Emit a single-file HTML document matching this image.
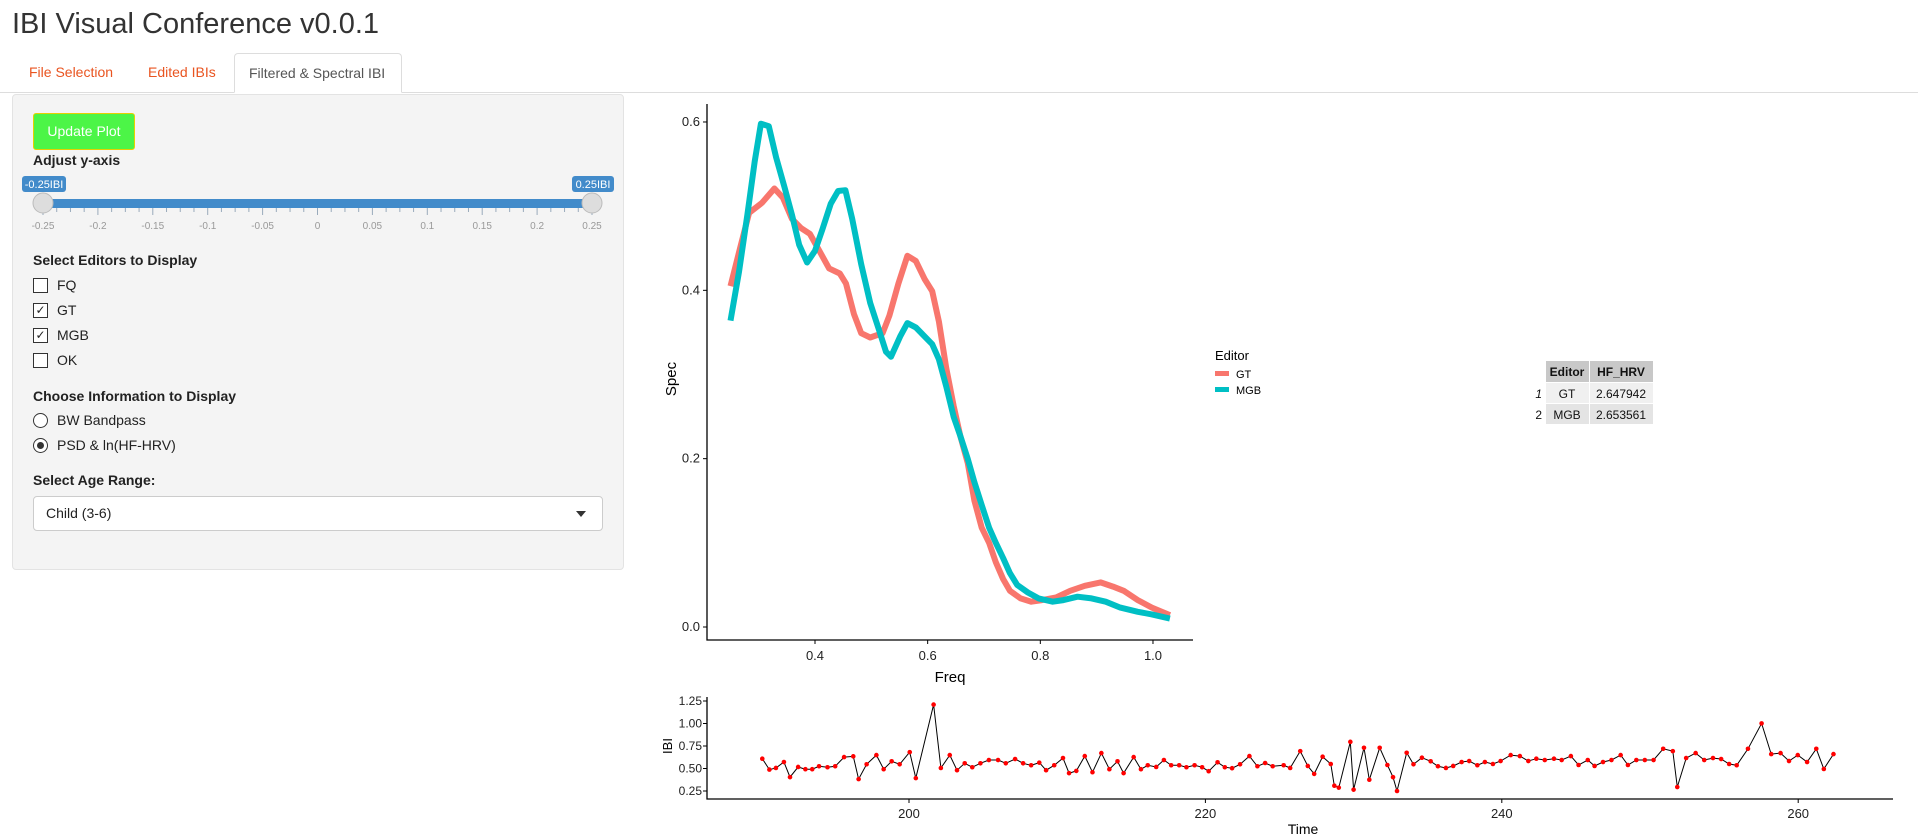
<!DOCTYPE html>
<html><head><meta charset="utf-8">
<style>
body{margin:0;width:1918px;height:839px;background:#fff;font-family:"Liberation Sans",sans-serif;position:relative;overflow:hidden;color:#333}
.abs{position:absolute}
.tab{position:absolute;top:53px;height:39px;line-height:39px;font-size:14px;color:#e95420;padding:0 14px;white-space:nowrap;box-sizing:border-box}
.lbl{position:absolute;left:33px;font-weight:bold;font-size:14px;color:#222}
.opt{position:absolute;left:33px;font-size:14px;color:#222;display:flex;align-items:center}
.cb{width:13px;height:13px;border:1px solid #333;margin-right:9px;font-size:12px;line-height:13px;text-align:center;background:#fff}
.rb{width:13px;height:13px;border:1px solid #333;border-radius:50%;margin-right:9px;background:#fff;position:relative}
svg text{font-family:"Liberation Sans",sans-serif}
</style></head><body>
<div class="abs" style="left:12px;top:8px;font-size:29px;color:#333">IBI Visual Conference v0.0.1</div>
<div class="abs" style="left:0;top:92px;width:1918px;height:1px;background:#ddd"></div>
<div class="tab" style="left:15px">File Selection</div>
<div class="tab" style="left:134px">Edited IBIs</div>
<div class="tab" style="left:234px;width:168px;border:1px solid #ddd;border-bottom:1px solid #fff;background:#fff;color:#555;border-radius:4px 4px 0 0;height:40px">Filtered &amp; Spectral IBI</div>

<div class="abs" style="left:12px;top:94px;width:610px;height:474px;background:#f4f4f4;border:1px solid #e3e3e3;border-radius:4px"></div>
<div class="abs" style="left:33px;top:113px;width:100px;height:35px;background:#4cf547;border:1px solid #e6d000;border-radius:3px;color:#fff;font-size:14px;line-height:35px;text-align:center">Update Plot</div>
<div class="lbl" style="top:152px">Adjust y-axis</div>
<svg class="abs" style="left:12px;top:170px" width="610" height="70">
<rect x="31" y="29" width="549" height="9" fill="#428bca" rx="2"/>
<g id="slticks" stroke="#9ab" stroke-width="1"></g>
<g id="sllabels" font-size="10" fill="#999" text-anchor="middle"></g>
<rect x="10" y="6" width="44" height="16" rx="3" fill="#428bca"/>
<text x="32" y="18" font-size="11" fill="#fff" text-anchor="middle">-0.25IBI</text>
<rect x="560" y="6" width="42" height="16" rx="3" fill="#428bca"/>
<text x="581" y="18" font-size="11" fill="#fff" text-anchor="middle">0.25IBI</text>
<circle cx="31" cy="33" r="10" fill="#ddd" stroke="#bbb"/>
<circle cx="580" cy="33" r="10" fill="#ddd" stroke="#bbb"/>
</svg>
<div class="lbl" style="top:252px">Select Editors to Display</div>
<div class="opt" style="top:277px"><span class="cb"></span>FQ</div>
<div class="opt" style="top:302px"><span class="cb">✓</span>GT</div>
<div class="opt" style="top:327px"><span class="cb">✓</span>MGB</div>
<div class="opt" style="top:352px"><span class="cb"></span>OK</div>
<div class="lbl" style="top:388px">Choose Information to Display</div>
<div class="opt" style="top:412px"><span class="rb"></span>BW Bandpass</div>
<div class="opt" style="top:437px"><span class="rb"><span style="position:absolute;left:3px;top:3px;width:7px;height:7px;border-radius:50%;background:#333"></span></span>PSD &amp; ln(HF-HRV)</div>
<div class="lbl" style="top:472px">Select Age Range:</div>
<div class="abs" style="left:33px;top:496px;width:568px;height:33px;background:#fff;border:1px solid #ccc;border-radius:4px;font-size:14px;line-height:33px;color:#222"><span style="margin-left:12px">Child (3-6)</span><span style="position:absolute;right:16px;top:14px;border-left:5px solid transparent;border-right:5px solid transparent;border-top:6px solid #333"></span></div>

<svg class="abs" style="left:0;top:0" width="1918" height="839" id="charts">
<g id="spec"></g><g id="ibi"></g>
<text x="1215" y="360" font-size="13" fill="#000">Editor</text>
<rect x="1215" y="371" width="14" height="5" fill="#f8766d"/>
<text x="1236" y="378" font-size="11">GT</text>
<rect x="1215" y="387" width="14" height="5" fill="#00bfc4"/>
<text x="1236" y="394" font-size="11">MGB</text>
<g font-size="12" fill="#111">
<rect x="1546" y="361" width="43" height="21" fill="#c8c8c8"/><rect x="1590" y="361" width="63" height="21" fill="#c8c8c8"/>
<rect x="1546" y="383" width="43" height="20" fill="#f0f0f0"/><rect x="1590" y="383" width="63" height="20" fill="#f0f0f0"/>
<rect x="1546" y="404" width="43" height="20" fill="#e4e4e4"/><rect x="1590" y="404" width="63" height="20" fill="#e4e4e4"/>
<text x="1567" y="376" text-anchor="middle" font-weight="bold">Editor</text><text x="1621" y="376" text-anchor="middle" font-weight="bold">HF_HRV</text>
<text x="1542" y="398" text-anchor="end" font-style="italic">1</text><text x="1567" y="398" text-anchor="middle">GT</text><text x="1621" y="398" text-anchor="middle">2.647942</text>
<text x="1542" y="419" text-anchor="end">2</text><text x="1567" y="419" text-anchor="middle">MGB</text><text x="1621" y="419" text-anchor="middle">2.653561</text>
</g>
</svg>
<script>
const specFreqGT=[0.250,0.265,0.283,0.306,0.328,0.343,0.359,0.375,0.391,0.406,0.425,0.444,0.455,0.469,0.482,0.498,0.520,0.532,0.548,0.564,0.579,0.595,0.608,0.620,0.633,0.646,0.658,0.671,0.683,0.696,0.709,0.721,0.734,0.746,0.765,0.784,0.803,0.828,0.853,0.879,0.907,0.929,0.948,0.973,0.998,1.030];
const specGT=[0.405,0.445,0.492,0.504,0.521,0.510,0.485,0.474,0.467,0.449,0.426,0.420,0.408,0.372,0.349,0.344,0.349,0.370,0.408,0.441,0.435,0.413,0.399,0.363,0.308,0.263,0.227,0.195,0.150,0.118,0.100,0.077,0.057,0.043,0.034,0.030,0.032,0.035,0.043,0.049,0.053,0.048,0.043,0.032,0.023,0.014];
const specFreqMGB=[0.250,0.265,0.280,0.293,0.304,0.318,0.331,0.346,0.359,0.372,0.386,0.400,0.413,0.428,0.441,0.454,0.466,0.482,0.498,0.513,0.526,0.535,0.551,0.564,0.579,0.595,0.608,0.620,0.633,0.646,0.658,0.671,0.683,0.696,0.709,0.721,0.734,0.746,0.759,0.778,0.797,0.822,0.841,0.866,0.891,0.916,0.942,0.973,0.998,1.030];
const specMGB=[0.364,0.422,0.490,0.553,0.598,0.595,0.558,0.522,0.490,0.454,0.433,0.447,0.472,0.503,0.518,0.519,0.485,0.431,0.385,0.354,0.327,0.321,0.345,0.361,0.356,0.345,0.336,0.318,0.286,0.250,0.227,0.200,0.172,0.145,0.118,0.100,0.082,0.064,0.050,0.041,0.034,0.030,0.032,0.036,0.034,0.030,0.023,0.018,0.015,0.010];
const specXTicks=[0.4,0.6,0.8,1.0];
const specYTicks=[0.0,0.2,0.4,0.6];
const ibiTime=[190.10,190.58,191.02,191.56,191.97,192.52,193.01,193.47,193.93,194.50,195.02,195.62,196.24,196.60,197.14,197.80,198.29,198.83,199.37,200.05,200.46,201.66,202.15,202.75,203.24,203.76,204.27,204.82,205.39,206.01,206.53,207.16,207.70,208.24,208.79,209.25,209.80,210.39,210.80,211.29,211.86,212.38,212.98,213.52,214.07,214.48,215.16,215.65,216.11,216.68,217.20,217.69,218.23,218.72,219.27,219.78,220.22,220.82,221.31,221.80,222.34,222.97,223.51,224.03,224.54,225.28,225.72,226.40,226.91,227.34,227.91,228.46,228.70,229.00,229.78,230.00,230.70,231.06,231.76,232.28,232.66,232.93,233.58,234.04,234.61,235.20,235.69,236.23,236.72,237.29,237.80,238.35,238.86,239.40,239.92,240.60,241.22,241.79,242.33,242.90,243.52,244.04,244.66,245.18,245.80,246.26,246.83,247.40,248.02,248.51,249.08,249.65,250.24,250.89,251.54,251.84,252.44,253.08,253.66,254.25,254.80,255.34,255.85,256.61,257.53,258.18,258.81,259.38,259.97,260.60,261.22,261.73,262.38];
const ibiValue=[0.609,0.488,0.506,0.572,0.404,0.517,0.492,0.492,0.525,0.514,0.525,0.627,0.635,0.382,0.547,0.649,0.492,0.580,0.547,0.682,0.393,1.210,0.506,0.649,0.481,0.558,0.514,0.558,0.594,0.594,0.558,0.605,0.558,0.536,0.565,0.481,0.536,0.616,0.448,0.473,0.638,0.459,0.671,0.492,0.580,0.448,0.627,0.492,0.536,0.517,0.594,0.536,0.536,0.514,0.536,0.514,0.470,0.569,0.514,0.503,0.547,0.638,0.525,0.561,0.525,0.536,0.506,0.693,0.528,0.440,0.631,0.550,0.309,0.287,0.796,0.265,0.730,0.375,0.730,0.539,0.404,0.250,0.675,0.547,0.620,0.580,0.525,0.506,0.528,0.572,0.583,0.536,0.572,0.550,0.583,0.649,0.638,0.583,0.609,0.594,0.609,0.594,0.638,0.539,0.594,0.528,0.572,0.594,0.649,0.539,0.594,0.594,0.594,0.719,0.693,0.294,0.616,0.671,0.594,0.616,0.605,0.550,0.536,0.719,1.001,0.660,0.671,0.583,0.649,0.572,0.719,0.495,0.660];
const ibiXTicks=[200,220,240,260];
const ibiYTicks=[0.25,0.50,0.75,1.00,1.25];
const sliderLabels=[-0.25,-0.2,-0.15,-0.1,-0.05,0,0.05,0.1,0.15,0.2,0.25];

const NS='http://www.w3.org/2000/svg';
function mk(tag,attrs,parent){const e=document.createElementNS(NS,tag);for(const k in attrs)e.setAttribute(k,attrs[k]);parent.appendChild(e);return e;}
const slT=document.getElementById('slticks'),slL=document.getElementById('sllabels');
const slX=v=>31+(v+0.25)/0.5*549;
for(let i=0;i<=40;i++){const v=-0.25+i*0.0125;const major=i%4===0;mk('line',{x1:slX(v),x2:slX(v),y1:38,y2:major?45:42},slT);}
sliderLabels.forEach(v=>{const t=mk('text',{x:slX(v),y:59},slL);t.textContent=String(v);});

const sx=f=>815+(f-0.4)*563.3, sy=s=>627-s*841.7;
const spec=document.getElementById('spec');
const sAxis=mk('path',{d:'M707,104 V640 H1193',stroke:'#000','stroke-width':1.3,fill:'none'},spec);


specXTicks.forEach(v=>{mk('line',{x1:sx(v),x2:sx(v),y1:640,y2:644,stroke:'#000'},spec);const t=mk('text',{x:sx(v),y:660,'font-size':13,'text-anchor':'middle',fill:'#222'},spec);t.textContent=v.toFixed(1);});
specYTicks.forEach(v=>{mk('line',{x1:703,x2:707,y1:sy(v),y2:sy(v),stroke:'#000'},spec);const t=mk('text',{x:700,y:sy(v)+4,'font-size':13,'text-anchor':'end',fill:'#222'},spec);t.textContent=v.toFixed(1);});
const fx=mk('text',{x:950,y:682,'font-size':15,'text-anchor':'middle'},spec);fx.textContent='Freq';


const fy=mk('text',{x:0,y:0,'font-size':15,'text-anchor':'middle',transform:'translate(676,379) rotate(-90)'},spec);fy.textContent='Spec';


function line(xs,ys,col,name){const d=xs.map((f,i)=>(i?'L':'M')+sx(f).toFixed(1)+','+sy(ys[i]).toFixed(1)).join('');const p=mk('path',{d:d,stroke:col,'stroke-width':6,fill:'none','stroke-linejoin':'round'},spec);}
line(specFreqGT,specGT,'#f8766d','spectrum-line-gt');
line(specFreqMGB,specMGB,'#00bfc4','spectrum-line-mgb');

const ix=t=>909+(t-200)*14.82, iy=v=>791-(v-0.25)*90;
const ibi=document.getElementById('ibi');
const iAxis=mk('path',{d:'M707,697 V799 H1893',stroke:'#000','stroke-width':1.3,fill:'none'},ibi);


ibiXTicks.forEach(v=>{mk('line',{x1:ix(v),x2:ix(v),y1:799,y2:803,stroke:'#000'},ibi);const t=mk('text',{x:ix(v),y:818,'font-size':13,'text-anchor':'middle',fill:'#222'},ibi);t.textContent=v;});
ibiYTicks.forEach(v=>{mk('line',{x1:703,x2:707,y1:iy(v),y2:iy(v),stroke:'#000'},ibi);const t=mk('text',{x:702,y:iy(v)+4,'font-size':12,'text-anchor':'end',fill:'#222'},ibi);t.textContent=v.toFixed(2);});
const tx=mk('text',{x:1303,y:834,'font-size':14,'text-anchor':'middle'},ibi);tx.textContent='Time';


const ty=mk('text',{x:0,y:0,'font-size':13,'text-anchor':'middle',transform:'translate(672,746) rotate(-90)'},ibi);ty.textContent='IBI';


const ip=mk('path',{d:ibiTime.map((t,i)=>(i?'L':'M')+ix(t).toFixed(1)+','+iy(ibiValue[i]).toFixed(1)).join(''),stroke:'#000','stroke-width':1,fill:'none'},ibi);


ibiTime.forEach((t,i)=>{const c=mk('circle',{cx:ix(t),cy:iy(ibiValue[i]),r:2.3,fill:'#ff0000'},ibi);

});
</script>
</body></html>
